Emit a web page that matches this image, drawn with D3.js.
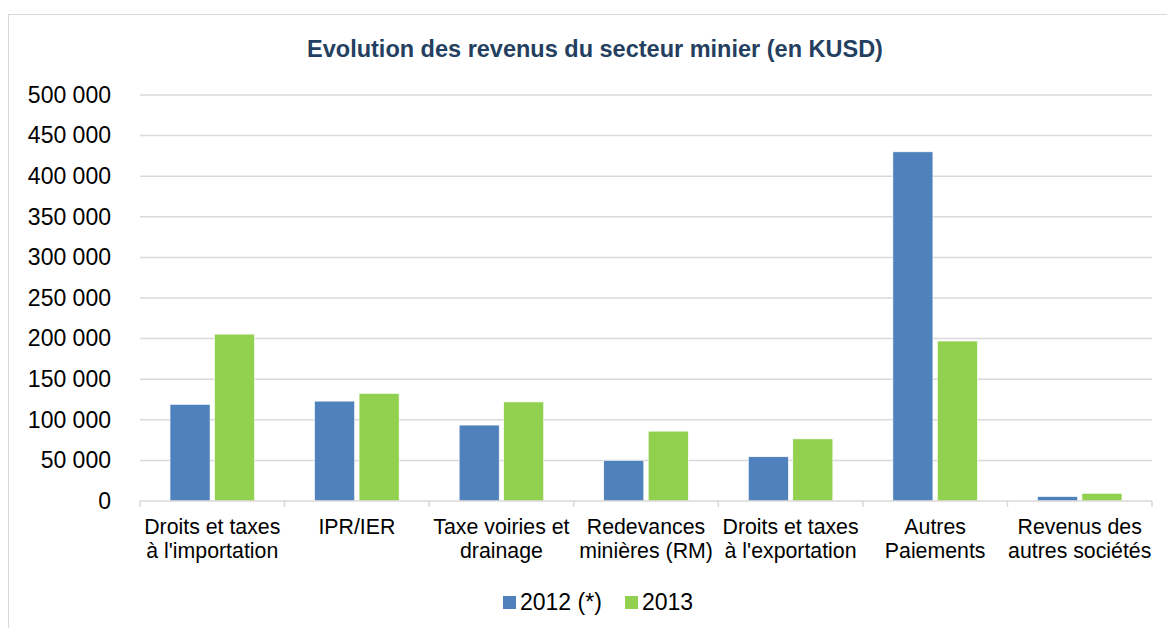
<!DOCTYPE html>
<html>
<head>
<meta charset="utf-8">
<script src="https://cdn.jsdelivr.net/npm/d3@7"></script>
<style>
  body { margin: 0; background: #fff; }
  svg text { font-family: "Liberation Sans", Arial, sans-serif; }
</style>
</head>
<body>
<svg class="chart_svg" width="1167" height="628"></svg>
<script>
// values in KUSD
const categories = [
    ["Droits et taxes", "à l'importation"],
    ["IPR/IER"],
    ["Taxe voiries et", "drainage"],
    ["Redevances", "minières (RM)"],
    ["Droits et taxes", "à l'exportation"],
    ["Autres", "Paiements"],
    ["Revenus des", "autres sociétés"]
]
const seriesNames = ["2012 (*)", "2013"]
const values2012 = [119000, 123000, 93500, 50000, 54500, 430000, 5500]
const values2013 = [205500, 132500, 122000, 86000, 76500, 197000, 9500]
const yTicks = [0, 50000, 100000, 150000, 200000, 250000, 300000, 350000, 400000, 450000, 500000]
const colors = ["#4f81bd", "#92d050"]

const svg = d3.select("svg.chart_svg")
const margin = { top: 95, left: 140, right: 15, bottom: 127 }
const width = 1167 - margin.left - margin.right
const height = 628 - margin.top - margin.bottom

// chart frame
svg.append("rect")
    .attr("x", 8.5).attr("y", 14.5)
    .attr("width", 1170).attr("height", 630)
    .attr("fill", "none").attr("stroke", "#d9d9d9")

svg.append("text")
    .attr("x", 595).attr("y", 57)
    .attr("text-anchor", "middle")
    .attr("font-weight", "bold")
    .attr("font-size", "23.5px")
    .attr("fill", "#243f60")
    .text("Evolution des revenus du secteur minier (en KUSD)")

const g = svg.append("g").attr("transform", `translate(${margin.left},${margin.top})`)

const x0 = d3.scaleBand().domain(d3.range(categories.length)).range([0, width]).padding(0)
const x1 = d3.scaleBand().domain(seriesNames).range([0, x0.bandwidth()])
    .paddingInner(0.1).paddingOuter(0.675)
const y = d3.scaleLinear().domain([0, 500000]).range([height, 0])

const fmt = v => d3.format(",")(v).replace(/,/g, " ")

// gridlines
g.append("g")
    .selectAll("line")
    .data(yTicks.slice(1))
    .join("line")
    .attr("x1", 0).attr("x2", width)
    .attr("y1", d => y(d)).attr("y2", d => y(d))
    .attr("stroke", "#d9d9d9").attr("stroke-width", 1.5)

const yAxis = g.append("g")
    .call(d3.axisLeft(y).tickValues(yTicks).tickFormat(fmt).tickSize(0).tickPadding(29))
yAxis.select(".domain").remove()
yAxis.selectAll("text").attr("font-size", "23px").attr("fill", "#000")
    .attr("font-family", "Liberation Sans, Arial, sans-serif")

const rows = categories.map((c, i) => ({ c, i, v: [values2012[i], values2013[i]] }))

g.append("g")
    .selectAll("g")
    .data(rows)
    .join("g")
    .attr("transform", d => `translate(${x0(d.i)},0)`)
    .selectAll("rect")
    .data(d => d.v.map((v, k) => ({ k, v })))
    .join("rect")
    .attr("x", d => x1(seriesNames[d.k]))
    .attr("width", x1.bandwidth())
    .attr("y", d => y(d.v))
    .attr("height", d => y(0) - y(d.v))
    .attr("fill", d => colors[d.k])
    .attr("stroke", "#fff").attr("stroke-width", 0.6)

// x axis
const xAxis = g.append("g").attr("transform", `translate(0,${height})`)
xAxis.append("line").attr("x1", 0).attr("x2", width)
    .attr("stroke", "#d9d9d9").attr("stroke-width", 1.5)
xAxis.selectAll("line.tick")
    .data(d3.range(categories.length + 1))
    .join("line").attr("class", "tick")
    .attr("x1", d => d * x0.step()).attr("x2", d => d * x0.step())
    .attr("y1", 0).attr("y2", 6)
    .attr("stroke", "#d9d9d9").attr("stroke-width", 1.5)
xAxis.selectAll("text")
    .data(rows)
    .join("text")
    .attr("x", d => x0(d.i) + x0.bandwidth() / 2)
    .attr("y", 33)
    .attr("text-anchor", "middle")
    .attr("font-size", "21.3px")
    .attr("fill", "#000")
    .selectAll("tspan")
    .data(d => d.c)
    .join("tspan")
    .attr("x", function () { return d3.select(this.parentNode).attr("x") })
    .attr("dy", (d, k) => k === 0 ? 0 : 23.5)
    .text(d => d)

// legend
const legend = svg.append("g").attr("transform", "translate(503,596)")
const items = [{ name: seriesNames[0], x: 0 }, { name: seriesNames[1], x: 122 }]
items.forEach((it, k) => {
    legend.append("rect").attr("x", it.x).attr("y", 0).attr("width", 13).attr("height", 13)
        .attr("fill", colors[k])
    legend.append("text").attr("x", it.x + 17).attr("y", 14).attr("font-size", "23px")
        .attr("fill", "#000").text(it.name)
})
</script>
</body>
</html>
